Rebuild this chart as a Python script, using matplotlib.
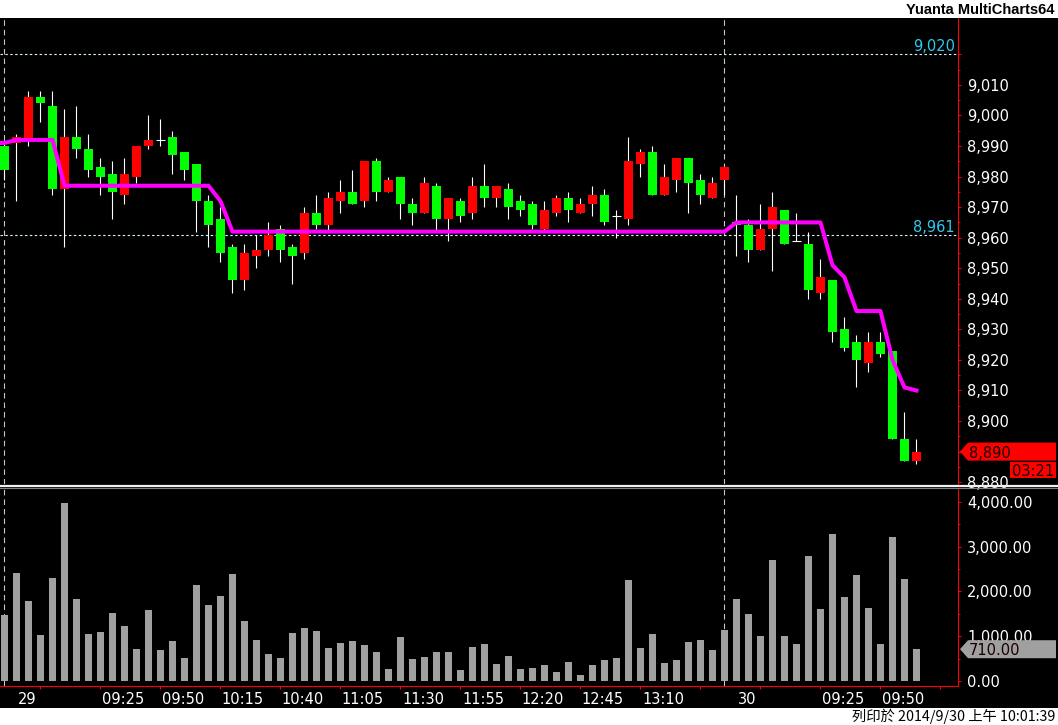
import numpy as np
import matplotlib
matplotlib.use('Agg')
import matplotlib.pyplot as plt
from matplotlib.patches import Polygon
from matplotlib.lines import Line2D
from matplotlib.ticker import FixedLocator, FuncFormatter
from matplotlib.transforms import blended_transform_factory

# 5-minute bars, 29 Sep (bars 0-59) and 30 Sep (bars 60-76)
opens = [8990, 8991, 8992, 9006, 9003, 8976, 8993, 8989, 8983, 8981,
         8974, 8980, 8990, 8992, 8993, 8988, 8984, 8972, 8966, 8957,
         8946, 8954, 8956, 8963, 8957, 8955, 8968, 8964, 8972, 8975,
         8972, 8985, 8975, 8980, 8971, 8968, 8977, 8966, 8972, 8968,
         8977, 8973, 8976, 8972, 8971, 8963, 8968, 8973, 8968, 8971,
         8974, 8967, 8966, 8984, 8988, 8974, 8979, 8986, 8979, 8973,
         8979, 8965, 8964, 8956, 8963, 8969, 8959, 8958, 8942, 8946,
         8930, 8926, 8919, 8926, 8923, 8894, 8887]
highs = [8992, 8994, 9008, 9008, 9008, 9002, 9003, 8994, 8986, 8985,
         8986, 8990, 9000, 8999, 8995, 8988, 8984, 8974, 8970, 8958,
         8958, 8961, 8965, 8964, 8958, 8970, 8974, 8975, 8979, 8982,
         8985, 8986, 8980, 8980, 8973, 8980, 8978, 8973, 8973, 8980,
         8984, 8977, 8978, 8974, 8972, 8972, 8974, 8975, 8973, 8977,
         8976, 8969, 8993, 8989, 8990, 8984, 8986, 8986, 8981, 8980,
         8983, 8974, 8966, 8971, 8975, 8969, 8968, 8962, 8953, 8946,
         8934, 8928, 8929, 8929, 8923, 8903, 8894]
lows = [8979, 8972, 8990, 8998, 8974, 8957, 8986, 8980, 8974, 8966,
        8971, 8978, 8989, 8990, 8981, 8979, 8962, 8957, 8952, 8942,
        8943, 8950, 8954, 8952, 8945, 8953, 8963, 8962, 8968, 8971,
        8970, 8972, 8975, 8966, 8964, 8968, 8962, 8959, 8965, 8966,
        8970, 8970, 8966, 8967, 8963, 8962, 8967, 8965, 8968, 8967,
        8964, 8960, 8964, 8980, 8974, 8974, 8975, 8968, 8971, 8973,
        8974, 8954, 8952, 8956, 8949, 8958, 8959, 8940, 8940, 8926,
        8923, 8911, 8916, 8921, 8894, 8887, 8886]
closes = [8982, 8993, 9006, 9004, 8976, 8993, 8989, 8982, 8980, 8975,
          8981, 8990, 8992, 8992, 8987, 8982, 8972, 8964, 8955, 8946,
          8955, 8956, 8961, 8956, 8954, 8968, 8964, 8973, 8975, 8971,
          8985, 8975, 8979, 8971, 8968, 8978, 8966, 8973, 8967, 8977,
          8973, 8977, 8970, 8969, 8964, 8969, 8973, 8969, 8971, 8974,
          8965, 8967, 8985, 8988, 8974, 8980, 8986, 8978, 8974, 8978,
          8983, 8964, 8956, 8963, 8970, 8958, 8959, 8943, 8947, 8929,
          8924, 8920, 8926, 8922, 8894, 8887, 8890]
volumes = [1475, 2413, 1788, 1028, 2302, 3978, 1832, 1050, 1095, 1520,
           1229, 715, 1587, 693, 894, 514, 2145, 1698, 1899, 2391,
           1341, 916, 603, 514, 1073, 1184, 1117, 737, 849, 894,
           804, 648, 268, 983, 492, 536, 648, 648, 246, 760,
           827, 380, 559, 268, 291, 358, 201, 425, 134, 358,
           469, 514, 2257, 737, 1050, 402, 469, 872, 916, 693,
           1140, 1832, 1497, 1006, 2704, 1006, 827, 2793, 1609, 3285,
           1877, 2369, 1631, 827, 3218, 2279, 710]

# magenta indicator, one value per bar starting one bar before the first
line_start = -1
line_values = [8991, 8991, 8992, 8992, 8992, 8992, 8977, 8977, 8977, 8977,
               8977, 8977, 8977, 8977, 8977, 8977, 8977, 8977, 8977, 8972,
               8962, 8962, 8962, 8962, 8962, 8962, 8962, 8962, 8962, 8962,
               8962, 8962, 8962, 8962, 8962, 8962, 8962, 8962, 8962, 8962,
               8962, 8962, 8962, 8962, 8962, 8962, 8962, 8962, 8962, 8962,
               8962, 8962, 8962, 8962, 8962, 8962, 8962, 8962, 8962, 8962,
               8962, 8962, 8965, 8965, 8965, 8965, 8965, 8965, 8965, 8965,
               8951, 8947, 8936, 8936, 8936, 8920, 8911, 8910]

ref_levels = [9020, 8961]
day_starts = [0, 60]
tick_bars = [3, 8, 13, 18, 23, 28, 33, 38, 43, 48, 53, 58, 63, 68, 73, 78]
label_bars = [0, 8, 13, 18, 23, 28, 33, 38, 43, 48, 53, 60, 68, 73]
label_texts = ['29', '09:25', '09:50', '10:15', '10:40', '11:05', '11:30',
               '11:55', '12:20', '12:45', '13:10', '30', '09:25', '09:50']
countdown = '03:21'

W, H = 1058, 725
RIGHT = 958


def fx(x):
    return x / W


def fy(y):
    # y measured from the top of the image
    return 1 - y / H


def draw_tag(fig, ax, value, text, color, x_tip=960, x_end=1056, half=9):
    yc = H - ax.transData.transform((0, value))[1]
    pts = [(x_tip, yc), (x_tip + 8, yc - half), (x_end, yc - half),
           (x_end, yc + half), (x_tip + 8, yc + half)]
    fig.add_artist(Polygon([(fx(a), fy(b)) for a, b in pts], closed=True,
                           transform=fig.transFigure, facecolor=color,
                           edgecolor='none', zorder=6))
    fig.text(fx(x_tip + 9), fy(yc), text, ha='left', va='center_baseline',
             fontsize=10.5, color='#1a0000', zorder=7)
    return yc


def main():
    opn = np.array(opens, float)
    hi = np.array(highs, float)
    lo = np.array(lows, float)
    cls = np.array(closes, float)
    x = np.arange(len(opn))

    fig = plt.figure(figsize=(W / 100, H / 100), dpi=100, facecolor='white')
    plt.rcParams['font.family'] = ['DejaVu Sans']

    bg = fig.add_axes([0, fy(708), 1, (708 - 18) / H])
    bg.set_facecolor('black')
    bg.set_xticks([])
    bg.set_yticks([])
    for s in bg.spines.values():
        s.set_visible(False)

    ax = fig.add_axes([0, fy(484), fx(RIGHT), (484 - 18) / H])
    ax2 = fig.add_axes([0, fy(686), fx(RIGHT), (686 - 489) / H])
    xlim = (-0.375, 79.46)

    for a in (ax, ax2):
        a.set_facecolor('black')
        a.set_xlim(*xlim)
        for name, s in a.spines.items():
            s.set_visible(name == 'right')
            s.set_color('red')
        a.yaxis.tick_right()
        a.tick_params(axis='y', which='major', colors='red', labelcolor='white',
                      length=2.4, width=0.8, pad=4.3, labelsize=10.5)
        a.tick_params(axis='y', which='minor', colors='red', length=1.6, width=0.8)
        for d in day_starts:
            a.axvline(d, color='#c8c8c8', lw=0.8, dashes=(5, 3.6), zorder=1)

    # price panel
    ax.set_ylim(8879.4, 9031.9)
    ax.yaxis.set_major_locator(FixedLocator(np.arange(8880, 9021, 10)))
    ax.yaxis.set_minor_locator(FixedLocator(np.arange(8885, 9016, 10)))
    ax.yaxis.set_major_formatter(FuncFormatter(
        lambda v, p: '' if v > 9015 else '{:,.0f}'.format(v)))
    ax.tick_params(axis='x', bottom=False, labelbottom=False)

    lbl = blended_transform_factory(ax.transAxes, ax.transData)
    for lv in ref_levels:
        ax.axhline(lv, color='#d8f4ff', lw=0.8, dashes=(2.2, 2.2), zorder=2)
        ax.text(955 / RIGHT, lv, '{:,}'.format(lv), transform=lbl, ha='right',
                va='bottom', fontsize=10.5, color='#2ccbf0', zorder=5)

    up = cls > opn
    dn = cls < opn
    flat = cls == opn
    ax.vlines(x, lo, hi, color='white', lw=0.8, zorder=3)
    ax.bar(x[up], (cls - opn)[up], bottom=opn[up], width=0.75,
           color='#ff0000', zorder=4)
    ax.bar(x[dn], (opn - cls)[dn], bottom=cls[dn], width=0.75,
           color='#00ff00', zorder=4)
    ax.hlines(opn[flat], x[flat] - 0.375, x[flat] + 0.375, color='white',
              lw=0.8, zorder=4)

    lx = np.arange(line_start, line_start + len(line_values))
    ax.plot(lx, line_values, color='#ff00ff', lw=2.9, zorder=5,
            solid_joinstyle='round')

    # volume panel
    ax2.spines['bottom'].set_visible(True)
    ax2.set_ylim(-112, 4290)
    ax2.bar(x, volumes, width=0.58, color='#a0a0a0', zorder=3)
    ax2.yaxis.set_major_locator(FixedLocator(np.arange(0, 4001, 1000)))
    ax2.yaxis.set_minor_locator(FixedLocator(np.arange(500, 4000, 1000)))
    ax2.yaxis.set_major_formatter(FuncFormatter(lambda v, p: '{:,.2f}'.format(v)))
    ax2.set_xticks(tick_bars)
    ax2.set_xticklabels([])
    ax2.tick_params(axis='x', colors='red', length=2.2, width=0.8)

    xt = blended_transform_factory(ax2.transData, fig.transFigure)
    for b, t in zip(label_bars, label_texts):
        ax2.text(b + 1.875, fy(703.5), t, transform=xt, ha='center',
                 va='baseline', fontsize=10.5, color='white', clip_on=False)

    # panel separator
    fig.add_artist(Line2D([0, 1], [fy(486)] * 2, transform=fig.transFigure,
                          color='#f0f0f0', lw=1.6, zorder=8))
    fig.add_artist(Line2D([0, 1], [fy(488)] * 2, transform=fig.transFigure,
                          color='#808080', lw=0.8, zorder=8))

    # last value tags
    yc = draw_tag(fig, ax, closes[-1], '{:,}'.format(closes[-1]), '#ff0000')
    box = [(1010, yc + 10), (1056, yc + 10), (1056, yc + 26), (1010, yc + 26)]
    fig.add_artist(Polygon([(fx(a), fy(b)) for a, b in box], closed=True,
                           transform=fig.transFigure, facecolor='#ff0000',
                           edgecolor='none', zorder=6))
    fig.text(fx(1033), fy(yc + 18), countdown, ha='center', va='center_baseline',
             fontsize=10.5, color='#1a0000', zorder=7)
    draw_tag(fig, ax2, volumes[-1], '{:,.2f}'.format(volumes[-1]), '#a0a0a0')

    # header and footer
    fig.text(fx(1055), fy(13.5), 'Yuanta MultiCharts64', ha='right',
             va='baseline', fontsize=10.5, fontweight='bold',
             family=['Liberation Sans', 'DejaVu Sans'], color='black')
    fig.text(fx(1055), fy(721.5), '列印於 2014/9/30 上午 10:01:39', ha='right',
             va='baseline', fontsize=10.3,
             family=['Noto Sans CJK TC', 'DejaVu Sans'], color='black')

    fig.savefig('out.png', dpi=100, facecolor='white')


if __name__ == '__main__':
    main()
